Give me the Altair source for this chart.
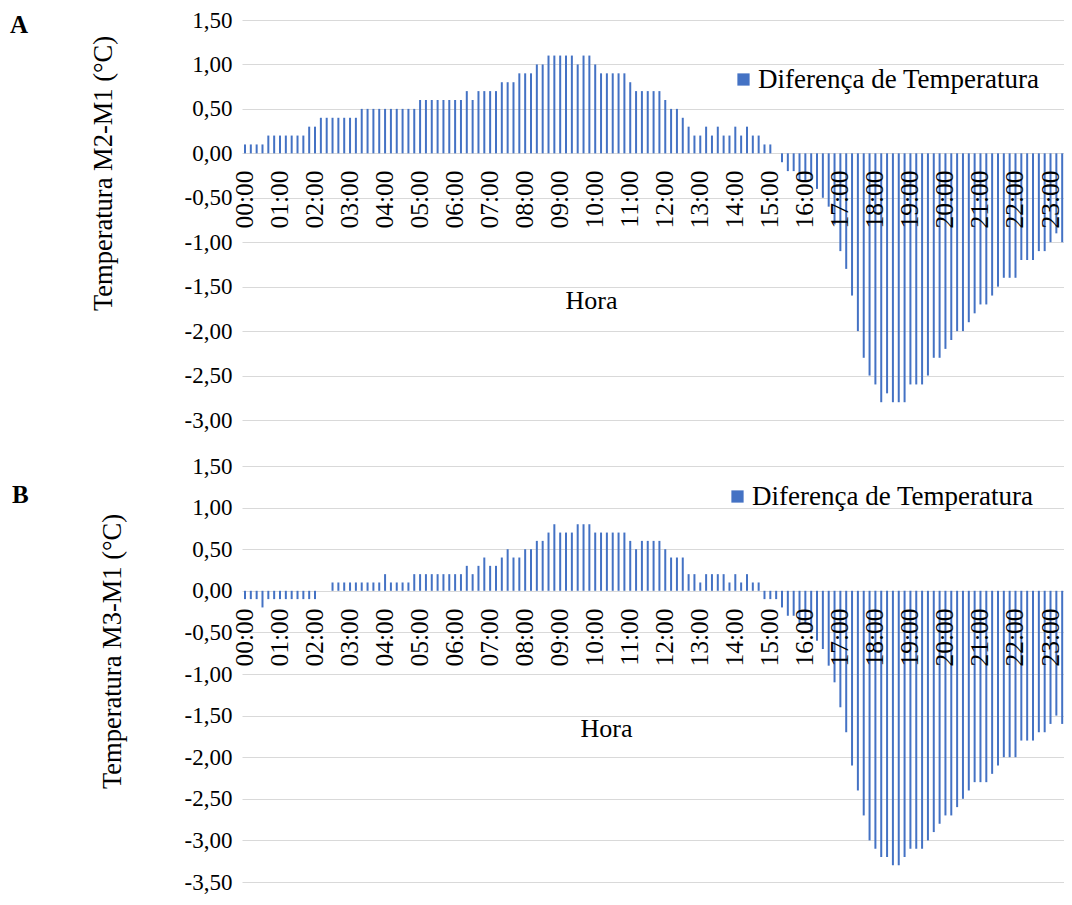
import altair as alt
import pandas as pd

# ---------------- data ----------------
HOURS = ["00", "01", "02", "03", "04", "05", "06", "07", "08", "09", "10", "11",
         "12", "13", "14", "15", "16", "17", "18", "19", "20", "21", "22", "23"]
MINUTES = ["00", "10", "20", "30", "40", "50"]
# 10-minute slots visible in the figure (the picture is cut after 23:30)
SLOTS = [f"{h}:{m}" for h in HOURS for m in MINUTES][:142]
# hourly tick labels of the x axis
HOUR_TICKS = [f"{h}:00" for h in HOURS]

LEGEND_LABEL = "Diferença de Temperatura"

# Panel A: Temperatura M2-M1 (°C), one row per hour
DIF_A = [
    0.1, 0.1, 0.1, 0.1, 0.2, 0.2,
    0.2, 0.2, 0.2, 0.2, 0.2, 0.3,
    0.3, 0.4, 0.4, 0.4, 0.4, 0.4,
    0.4, 0.4, 0.5, 0.5, 0.5, 0.5,
    0.5, 0.5, 0.5, 0.5, 0.5, 0.5,
    0.6, 0.6, 0.6, 0.6, 0.6, 0.6,
    0.6, 0.6, 0.7, 0.6, 0.7, 0.7,
    0.7, 0.7, 0.8, 0.8, 0.8, 0.9,
    0.9, 0.9, 1.0, 1.0, 1.1, 1.1,
    1.1, 1.1, 1.1, 1.0, 1.1, 1.1,
    1.0, 0.9, 0.9, 0.9, 0.9, 0.9,
    0.8, 0.7, 0.7, 0.7, 0.7, 0.7,
    0.6, 0.5, 0.5, 0.4, 0.3, 0.2,
    0.2, 0.3, 0.2, 0.3, 0.2, 0.2,
    0.3, 0.2, 0.3, 0.2, 0.2, 0.1,
    0.1, 0.0, -0.1, -0.2, -0.2, -0.3,
    -0.3, -0.3, -0.4, -0.5, -0.6, -0.8,
    -1.1, -1.3, -1.6, -2.0, -2.3, -2.5,
    -2.6, -2.8, -2.7, -2.8, -2.8, -2.8,
    -2.6, -2.6, -2.6, -2.5, -2.3, -2.3,
    -2.2, -2.1, -2.0, -2.0, -1.9, -1.8,
    -1.7, -1.7, -1.6, -1.5, -1.4, -1.4,
    -1.4, -1.2, -1.2, -1.2, -1.1, -1.1,
    -1.0, -0.9, -1.0, -0.9,
]

# Panel B: Temperatura M3-M1 (°C), one row per hour
DIF_B = [
    -0.1, -0.1, -0.1, -0.2, -0.1, -0.1,
    -0.1, -0.1, -0.1, -0.1, -0.1, -0.1,
    -0.1, 0.0, 0.0, 0.1, 0.1, 0.1,
    0.1, 0.1, 0.1, 0.1, 0.1, 0.1,
    0.2, 0.1, 0.1, 0.1, 0.1, 0.2,
    0.2, 0.2, 0.2, 0.2, 0.2, 0.2,
    0.2, 0.2, 0.3, 0.2, 0.3, 0.4,
    0.3, 0.3, 0.4, 0.5, 0.4, 0.4,
    0.5, 0.5, 0.6, 0.6, 0.7, 0.8,
    0.7, 0.7, 0.7, 0.8, 0.8, 0.8,
    0.7, 0.7, 0.7, 0.7, 0.7, 0.7,
    0.6, 0.5, 0.6, 0.6, 0.6, 0.6,
    0.5, 0.4, 0.4, 0.4, 0.2, 0.2,
    0.1, 0.2, 0.2, 0.2, 0.2, 0.1,
    0.2, 0.1, 0.2, 0.1, 0.1, -0.1,
    -0.1, -0.1, -0.2, -0.3, -0.3, -0.4,
    -0.4, -0.5, -0.6, -0.7, -0.9, -1.1,
    -1.4, -1.7, -2.1, -2.4, -2.7, -3.0,
    -3.1, -3.2, -3.2, -3.3, -3.3, -3.2,
    -3.1, -3.1, -3.1, -3.0, -2.9, -2.8,
    -2.7, -2.7, -2.6, -2.5, -2.4, -2.3,
    -2.3, -2.3, -2.2, -2.1, -2.0, -2.0,
    -2.0, -1.8, -1.8, -1.8, -1.7, -1.7,
    -1.6, -1.5, -1.6, -1.5,
]

YTICKS_A = [1.5, 1.0, 0.5, 0.0, -0.5, -1.0, -1.5, -2.0, -2.5, -3.0]
YTICKS_B = [1.5, 1.0, 0.5, 0.0, -0.5, -1.0, -1.5, -2.0, -2.5, -3.0, -3.5]

SERIF = "Liberation Serif"
BAR_COLOR = "#4472C4"
GRID = "#d9d9d9"
PLOT_W = 829

Y_LABEL_EXPR = "(datum.value < 0 ? '-' : '') + replace(format(abs(datum.value), '.2f'), '.', ',')"


def panel(values, yticks, ytitle, tag, height, x_offset, hora_x, hora_y,
          ytitle_x, ytitle_y, leg_x, leg_y, tag_x, tag_y):
    df = pd.DataFrame({"hora": SLOTS, "valor": values,
                       "serie": [LEGEND_LABEL] * len(SLOTS)})
    bars = alt.Chart(df).mark_bar(size=2).encode(
        x=alt.X(
            "hora:O", sort=None,
            scale=alt.Scale(domain=SLOTS, paddingInner=0, paddingOuter=0.01),
            axis=alt.Axis(
                title="Hora", values=HOUR_TICKS, labelAngle=-90,
                domain=False, ticks=False, tickSize=0, labelPadding=17,
                offset=x_offset, zindex=1,
                labelFont=SERIF, labelFontSize=25.5, labelColor="black",
                titleFont=SERIF, titleFontSize=26, titleFontWeight="normal",
                titleColor="black", titleX=hora_x, titleY=hora_y,
                titleBaseline="middle", titleAlign="center",
            ),
        ),
        y=alt.Y(
            "valor:Q",
            scale=alt.Scale(domain=[yticks[-1], yticks[0]], nice=False),
            axis=alt.Axis(
                values=yticks, labelExpr=Y_LABEL_EXPR, grid=True,
                gridColor=GRID, gridWidth=1, domain=False, ticks=False,
                labelPadding=10, labelFont=SERIF, labelFontSize=23,
                labelColor="black", title=ytitle, titleFont=SERIF,
                titleFontSize=26.5, titleFontWeight="normal", titleColor="black",
                titleX=ytitle_x, titleY=ytitle_y, titleBaseline="middle",
                titleAlign="center",
            ),
        ),
        color=alt.Color(
            "serie:N", scale=alt.Scale(range=[BAR_COLOR]),
            legend=alt.Legend(
                title=None, orient="none", legendX=leg_x, legendY=leg_y,
                symbolType="square", symbolSize=150, symbolStrokeWidth=0,
                labelFont=SERIF, labelFontSize=27, labelColor="black",
                labelOffset=1, labelLimit=500, padding=0, offset=0,
            ),
        ),
    )
    tag_df = pd.DataFrame({"t": [tag]})
    label = alt.Chart(tag_df).mark_text(
        font=SERIF, fontSize=25, fontWeight="bold", align="left",
        baseline="alphabetic", color="black",
    ).encode(x=alt.value(tag_x), y=alt.value(tag_y), text="t:N")
    return alt.layer(bars, label).properties(width=PLOT_W, height=height)


chart_a = panel(DIF_A, YTICKS_A, "Temperatura M2-M1 (°C)", "A", 400, -267,
                349, 147, -139, 153, 488, 46, -232, 13)
chart_b = panel(DIF_B, YTICKS_B, "Temperatura M3-M1 (°C)", "B", 416, -291,
                364, 137, -130, 185, 482, 17, -230, 37)

# the figure is cut at the right edge of the page, as in the source image
chart = alt.vconcat(chart_a, chart_b, spacing=46, bounds="flush").resolve_scale(
    color="independent"
).resolve_legend(color="independent").properties(
    padding={"left": 2, "top": 1, "right": -7, "bottom": 0},
    background="white",
).configure_view(strokeWidth=0)

chart.save("out.html", embed_options={"renderer": "svg", "actions": False})
